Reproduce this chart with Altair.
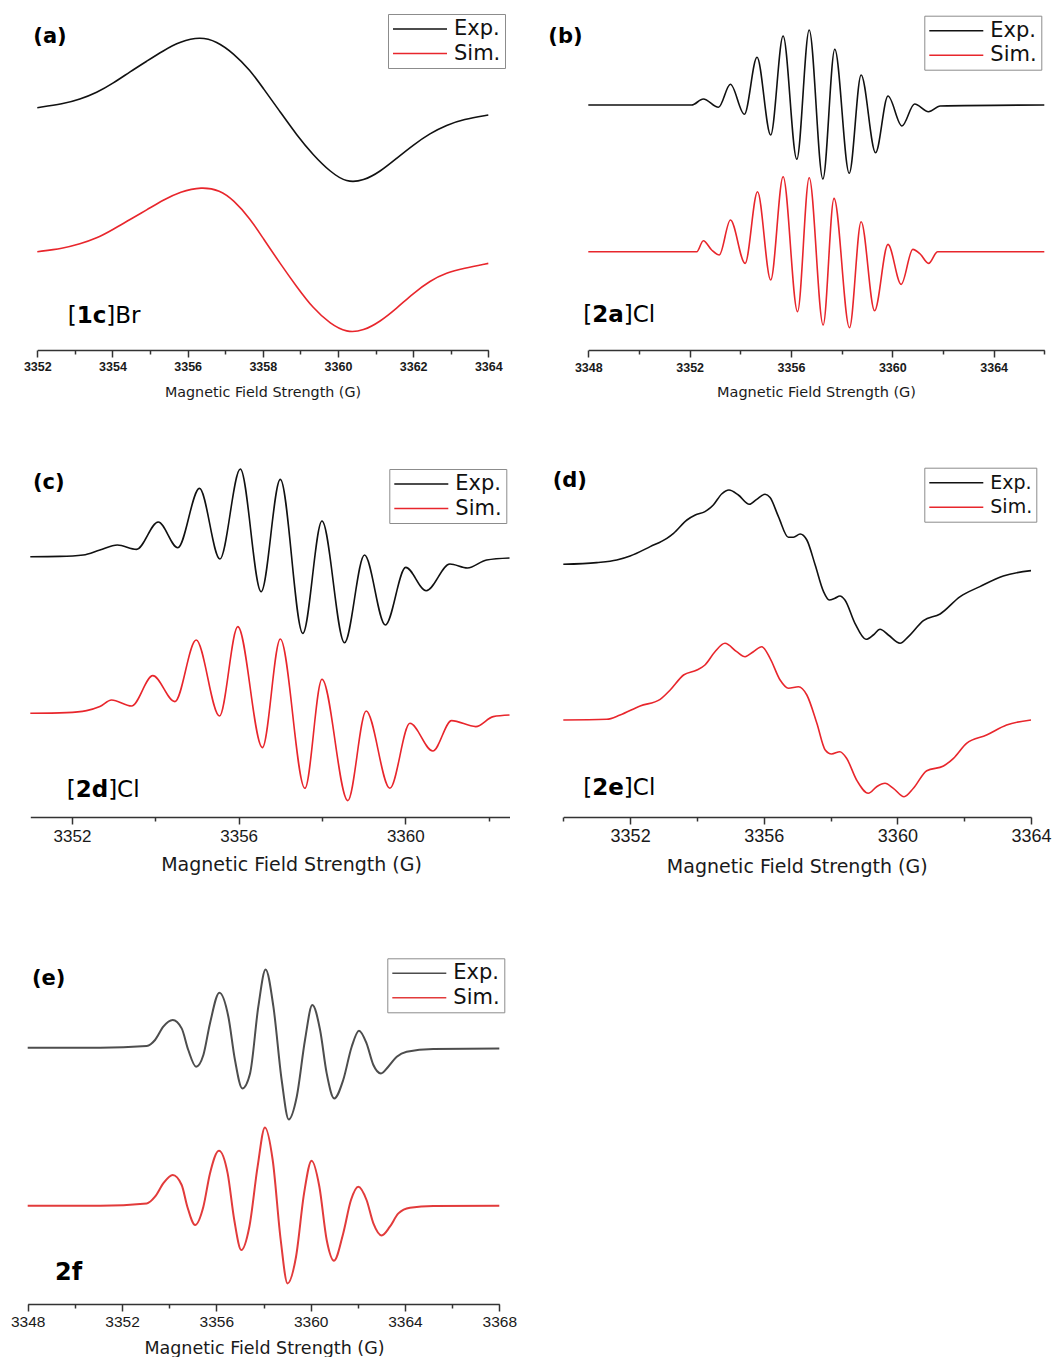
import altair as alt
import pandas as pd

# ---------------- data (field in G, intensity in a.u.) ----------------
A_X_EXP = [3352.00, 3352.69, 3353.13, 3353.58, 3354.02, 3354.47, 3354.91, 3355.35, 3355.80, 3356.33, 3356.77,
           3357.22, 3357.66, 3358.01, 3358.46, 3358.90, 3359.34, 3359.79, 3360.23, 3360.68, 3361.12, 3361.56,
           3362.00, 3362.45, 3362.89, 3363.34, 3364.00]
A_EXP = [0, 3.7, 8.4, 15, 24.5, 36, 46.5, 57, 66, 71, 66.5, 54.4, 37.7, 19.4, -4, -27.3, -47.3, -64, -75, -73,
         -64, -50.6, -37.3, -25.6, -17.3, -11.6, -7.3]
A_X_SIM = [3352.00, 3352.69, 3353.13, 3353.58, 3354.02, 3354.47, 3354.91, 3355.35, 3355.80, 3356.37, 3356.86,
           3357.22, 3357.66, 3358.01, 3358.46, 3358.90, 3359.34, 3359.79, 3360.23, 3360.68, 3361.12, 3361.56,
           3362.00, 3362.45, 3362.89, 3363.34, 3364.00]
A_SIM = [0, 3.3, 7.7, 13.3, 22.3, 32.3, 41.7, 51.7, 60, 65, 61.5, 51.7, 33.3, 13.3, -11.7, -35, -56.7, -72, -81,
         -79, -70, -56.7, -41.7, -29, -21, -16.7, -11.7]

B_X_EXP = [3348.0, 3352.08, 3352.54, 3353.14, 3353.61, 3354.16, 3354.66, 3355.20, 3355.69, 3356.23, 3356.72,
           3357.26, 3357.73, 3358.30, 3358.77, 3359.34, 3359.83, 3360.38, 3360.88, 3361.43, 3361.89, 3366.0]
B_EXP = [0, 0, 6, -2.3, 20.7, -9.3, 47.7, -30, 69, -54.3, 75, -74, 55.7, -68.3, 30, -47.7, 9, -21, 1, -6.7, -1, 0]
B_X_SIM = [3348.0, 3352.28, 3352.54, 3352.87, 3353.17, 3353.61, 3354.19, 3354.68, 3355.20, 3355.69, 3356.26,
           3356.72, 3357.27, 3357.70, 3358.31, 3358.77, 3359.30, 3359.83, 3360.35, 3360.81, 3361.10, 3361.43,
           3361.79, 3366.0]
B_SIM = [0, 0, 11, 1.7, -3.3, 31.7, -11.7, 60, -28.3, 75, -60, 74, -73.3, 53.3, -76, 30, -59, 7.3, -32.7, 2.3,
         -2.3, -11.7, 0, 0]

C_X_EXP = [3351.0, 3351.71, 3352.27, 3352.67, 3353.09, 3353.55, 3354.07, 3354.54, 3355.06, 3355.55, 3356.04,
           3356.54, 3357.00, 3357.54, 3358.00, 3358.54, 3359.02, 3359.52, 3360.01, 3360.50, 3361.07, 3361.49,
           3361.95, 3362.5]
C_EXP = [0, 0.3, 1.7, 6.7, 11.7, 7.3, 34.7, 9, 68.3, -2.3, 87.7, -35, 77.3, -76.7, 35.7, -86, 1.7, -68.3, -10.7,
         -34, -7.3, -11.3, -3.3, -1.3]
C_X_SIM = [3351.0, 3351.87, 3352.35, 3352.67, 3352.95, 3353.43, 3353.94, 3354.47, 3354.98, 3355.54, 3355.98,
           3356.57, 3357.00, 3357.59, 3358.00, 3358.62, 3359.06, 3359.63, 3360.11, 3360.66, 3361.11, 3361.69,
           3362.11, 3362.5]
C_SIM = [0, 0.7, 2.7, 6.7, 13.3, 7.3, 37.7, 11.7, 73.3, -2.7, 86.7, -34.3, 74.3, -75, 34, -87.3, 2.3, -75, -10,
         -37.7, -7.3, -13.3, -3.3, -1.7]

D_X_EXP = [3350.00, 3351.00, 3351.60, 3352.00, 3352.60, 3353.10, 3353.30, 3353.70, 3353.95, 3354.24, 3354.49,
           3354.74, 3354.96, 3355.24, 3355.57, 3355.79, 3356.04, 3356.19, 3356.44, 3356.74, 3356.89, 3357.09,
           3357.29, 3357.54, 3357.79, 3357.96, 3358.13, 3358.28, 3358.43, 3358.73, 3359.06, 3359.28, 3359.48,
           3359.73, 3360.08, 3360.33, 3360.78, 3361.28, 3361.88, 3362.47, 3363.17, 3364.00]
D_EXP = [0, 1.7, 4.3, 8.3, 17.7, 26, 31, 44.3, 49.3, 52.7, 59.3, 70.3, 74.3, 69.3, 60, 65, 70, 66.7, 47.7, 27, 27,
         30.3, 24.3, -0.7, -27.3, -35.7, -34, -31.7, -35.7, -59, -75, -70.7, -65, -70.7, -79, -72.3, -56.3, -49.7,
         -32.3, -22.3, -11.7, -6.3]
D_X_SIM = [3350.00, 3351.30, 3351.70, 3352.30, 3352.90, 3353.20, 3353.60, 3354.00, 3354.24, 3354.54, 3354.84,
           3355.19, 3355.44, 3355.69, 3355.94, 3356.19, 3356.49, 3356.74, 3357.04, 3357.29, 3357.59, 3357.84,
           3358.03, 3358.28, 3358.48, 3358.78, 3359.13, 3359.38, 3359.63, 3359.88, 3360.20, 3360.48, 3360.88,
           3361.38, 3361.68, 3362.07, 3362.67, 3363.27, 3364.00]
D_SIM = [0, 0.7, 5, 14, 20.7, 30, 45, 50, 55, 68.3, 76.7, 68.3, 63.3, 68.3, 73.3, 61.7, 40, 31.7, 33.3, 25, -3.3,
         -30, -34, -31.7, -38.3, -60, -73.3, -66.7, -63.3, -68.3, -76.7, -68.3, -50.7, -46, -38.3, -23.3, -15, -5, 0]

E_X_EXP = [3348.00, 3351.07, 3353.05, 3353.40, 3353.75, 3354.15, 3354.53, 3354.81, 3355.14, 3355.45, 3355.73,
           3356.13, 3356.51, 3356.79, 3357.10, 3357.43, 3357.78, 3358.09, 3358.42, 3358.77, 3359.07, 3359.41,
           3359.76, 3360.07, 3360.40, 3360.68, 3361.00, 3361.38, 3361.74, 3362.05, 3362.37, 3362.66, 3362.98,
           3363.29, 3363.65, 3364.07, 3365.20, 3368.00]
E_EXP = [0, 0, 1.7, 7.7, 21, 27.7, 19.3, -2.3, -19, -7.3, 24.3, 55, 31, -12.3, -40.7, -25.7, 41, 78.3, 41, -32.3,
         -71.7, -49, 7.7, 42.7, 17.7, -25.7, -50.7, -32.3, 1, 17, 4.3, -17.3, -25.7, -19, -9, -4, -1.3, -0.7]
E_X_SIM = [3348.00, 3351.07, 3353.05, 3353.40, 3353.75, 3354.15, 3354.53, 3354.77, 3355.10, 3355.45, 3355.73,
           3356.11, 3356.48, 3356.76, 3357.06, 3357.40, 3357.75, 3358.06, 3358.39, 3358.73, 3359.02, 3359.38,
           3359.72, 3360.04, 3360.37, 3360.68, 3360.99, 3361.38, 3361.71, 3362.02, 3362.37, 3362.66, 3363.01,
           3363.36, 3363.72, 3364.21, 3365.20, 3368.00]
E_SIM = [0, 0, 2.3, 9, 22.3, 30.7, 20.7, -1, -19.3, -1, 32.3, 55, 32.3, -14.3, -44.3, -21, 39, 78.3, 45.7, -34.3,
         -77.7, -51, 12.3, 45, 19, -34.3, -55, -27.7, 5.7, 19, 5.7, -17.7, -29.7, -21, -7.7, -2, -0.3, 0]

SERIES = ["Exp.", "Sim."]
AXIS_TITLE = "Magnetic Field Strength (G)"

TICKS_A = [3352, 3353, 3354, 3355, 3356, 3357, 3358, 3359, 3360, 3361, 3362, 3363, 3364]
TICKS_B = [3348, 3350, 3352, 3354, 3356, 3358, 3360, 3362, 3364, 3366]
TICKS_C = [3352, 3354, 3356, 3358, 3360, 3362]
TICKS_D = [3350, 3352, 3354, 3356, 3358, 3360, 3362, 3364]
TICKS_E = [3348, 3350, 3352, 3354, 3356, 3358, 3360, 3362, 3364, 3366, 3368]

# ---------------- helpers ----------------
REG_W = {"[": 0.390, "]": 0.390, "B": 0.686, "r": 0.411, "C": 0.698, "l": 0.278}
BOLD_W = {"1": 0.696, "2": 0.696, "a": 0.675, "c": 0.593, "d": 0.716, "e": 0.678, "f": 0.435}


def make_df(x_exp, y_exp, x_sim, y_sim, off_exp, off_sim):
    rows = []
    for x, v in zip(x_exp, y_exp):
        rows.append({"field": x, "signal": v + off_exp, "series": "Exp."})
    for x, v in zip(x_sim, y_sim):
        rows.append({"field": x, "signal": v + off_sim, "series": "Sim."})
    return pd.DataFrame(rows)


def txt(s, x, y, fs, bold=False):
    return alt.Chart(pd.DataFrame({"t": [s]})).mark_text(
        align="left", baseline="alphabetic", font="DejaVu Sans", fontSize=fs,
        fontWeight="bold" if bold else "normal", color="black"
    ).encode(x=alt.value(x), y=alt.value(y), text="t:N")


def compound(pre, bold, post, x0, y, fs):
    w_pre = sum(REG_W[c] for c in pre) * fs
    w_bold = sum(BOLD_W[c] for c in bold) * fs
    out = []
    if pre:
        out.append(txt(pre, x0, y, fs))
    out.append(txt(bold, x0 + w_pre, y, fs, bold=True))
    if post:
        out.append(txt(post, x0 + w_pre + w_bold, y, fs))
    return out


def panel(df, cfg, texts):
    mod = cfg["major"]
    axis = alt.Axis(
        values=cfg["ticks"], format="d",
        labelExpr=f"datum.value % {mod} === 0 ? datum.label : ''",
        tickSize={"condition": {"test": f"datum.value % {mod} === 0", "value": 7}, "value": 4},
        tickColor="#333333", tickWidth=1.5, domainColor="#333333", domainWidth=1.5,
        labelFont="Liberation Sans", labelFontSize=cfg["tick_fs"], labelFontWeight=cfg["tick_fw"],
        labelColor="#1a1a1a", labelBaseline="alphabetic", labelPadding=cfg["label_pad"],
        labelOverlap=False, labelFlush=False,
        title=AXIS_TITLE, titleFont="DejaVu Sans", titleFontSize=cfg["title_fs"], titleFontWeight="normal",
        titleColor="#1a1a1a", titleX=cfg["title_x"], titleY=cfg["title_y"], titleBaseline="alphabetic",
        titleAlign="center", grid=False,
    )
    legend = alt.Legend(
        orient="none", legendX=cfg["leg"][0], legendY=cfg["leg"][1], title=None,
        symbolType="M-2.7,0H2.7", symbolSize=400, symbolStrokeWidth=1.5, symbolOffset=17,
        labelFont="DejaVu Sans", labelFontSize=cfg["leg_fs"], labelColor="#111111", labelOffset=23,
        strokeColor="#8c8c8c", fillColor="white", padding=4, rowPadding=3.5,
    )
    lines = alt.Chart(df).mark_line(interpolate=cfg["interp"], strokeWidth=cfg["sw"]).encode(
        x=alt.X("field:Q", scale=alt.Scale(domain=cfg["dom"], range=cfg["rng"], nice=False, zero=False), axis=axis),
        y=alt.Y("signal:Q", scale=alt.Scale(domain=[0, cfg["H"]], nice=False, zero=False), axis=None),
        color=alt.Color("series:N", scale=alt.Scale(domain=SERIES, range=cfg["colors"]), legend=legend),
    )
    return alt.layer(lines, *texts).properties(width=cfg["W"], height=cfg["H"])


RED = "#e8262c"
BLK = "#111111"

cfg_a = dict(W=530, H=350, dom=[3352, 3364], rng=[37.3, 488.3], ticks=TICKS_A, major=2, tick_fs=12.5,
             tick_fw="bold", label_pad=13.7, title_fs=14.3, title_x=262.5, title_y=46.7, leg=(388, 14),
             leg_fs=21, colors=[BLK, RED], sw=1.6, interp="basis")
cfg_b = dict(W=526, H=350, dom=[3348, 3366], rng=[58.3, 514.3], ticks=TICKS_B, major=4, tick_fs=12.5,
             tick_fw="bold", label_pad=14.4, title_fs=14.5, title_x=286, title_y=46.7, leg=(394.3, 15.7),
             leg_fs=21, colors=[BLK, RED], sw=1.6, interp="monotone")
cfg_c = dict(W=530, H=467, dom=[3351, 3362.5], rng=[30.3, 509.5], ticks=TICKS_C, major=4, tick_fs=17,
             tick_fw="normal", label_pad=17, title_fs=19, title_x=291, title_y=53, leg=(389.3, 119),
             leg_fs=21, colors=[BLK, RED], sw=1.6, interp="monotone")
cfg_d = dict(W=526, H=467, dom=[3350, 3364], rng=[33.3, 501], ticks=TICKS_D, major=4, tick_fs=18,
             tick_fw="normal", label_pad=17, title_fs=19, title_x=266.7, title_y=55, leg=(394.3, 117.7),
             leg_fs=19, colors=[BLK, RED], sw=1.6, interp="monotone")
cfg_e = dict(W=530, H=487, dom=[3348, 3368], rng=[27.7, 499.3], ticks=TICKS_E, major=4, tick_fs=15.5,
             tick_fw="normal", label_pad=15.7, title_fs=17.5, title_x=264, title_y=49, leg=(387.3, 141.3),
             leg_fs=21, colors=["#4d4d4d", "#e23b3b"], sw=2, interp="monotone")

pa = panel(make_df(A_X_EXP, A_EXP, A_X_SIM, A_SIM, 242.3, 98.3), cfg_a,
           [txt("(a)", 33.3, 42.5, 21, bold=True)] + compound("[", "1c", "]Br", 67.7, 322.7, 23))
pb = panel(make_df(B_X_EXP, B_EXP, B_X_SIM, B_SIM, 245, 98.3), cfg_b,
           [txt("(b)", 18.3, 43, 21, bold=True)] + compound("[", "2a", "]Cl", 53.3, 321.7, 23))
pc = panel(make_df(C_X_EXP, C_EXP, C_X_SIM, C_SIM, 260.3, 103.7), cfg_c,
           [txt("(c)", 33, 138.5, 21, bold=True)] + compound("[", "2d", "]Cl", 66.7, 446.7, 23))
pdd = panel(make_df(D_X_EXP, D_EXP, D_X_SIM, D_SIM, 252.7, 97), cfg_d,
            [txt("(d)", 22.7, 137, 21, bold=True)] + compound("[", "2e", "]Cl", 53.3, 445, 23))
pe = panel(make_df(E_X_EXP, E_EXP, E_X_SIM, E_SIM, 256.3, 98.3), cfg_e,
           [txt("(e)", 32, 168, 21, bold=True)] + compound("", "2f", "", 55, 463, 24))

chart = alt.concat(pa, pb, pc, pdd, pe, columns=2, spacing=0, bounds="flush", align="each").resolve_scale(
    x="independent", y="independent", color="independent"
).resolve_legend(color="independent").properties(padding=0).configure_view(stroke=None)

chart.save("out.html", embed_options={"renderer": "svg", "actions": False})
